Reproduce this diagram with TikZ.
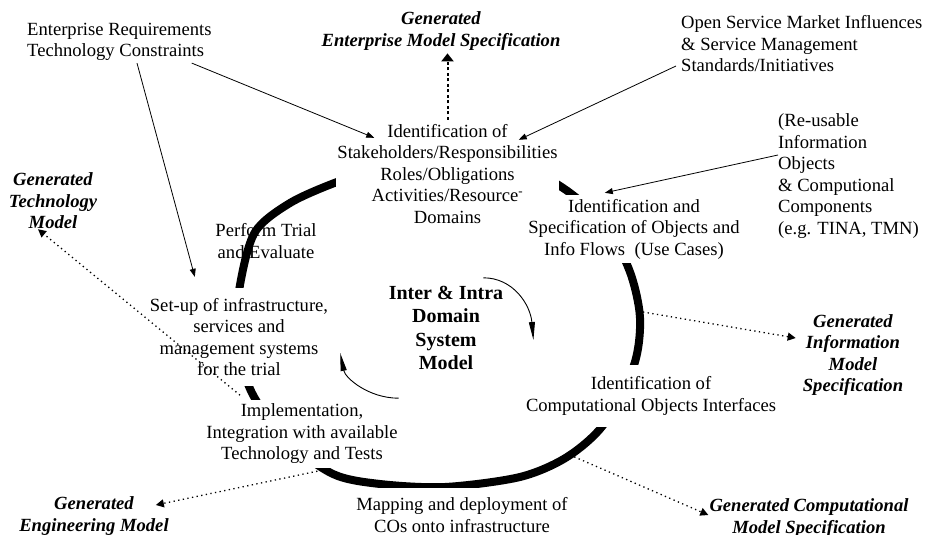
\documentclass[tikz,border=0pt]{standalone}
\usepackage{fontspec}
\setmainfont{Liberation Serif}
\usetikzlibrary{arrows.meta}

\begin{document}
\begin{tikzpicture}[x=1pt, y=-1pt,
    txt/.style={font=\fontsize{18.6}{21.5}\selectfont, align=center, inner sep=0pt},
    stage/.style={txt, fill=white, inner sep=1pt},
    model/.style={txt, font=\fontsize{18.6}{21.5}\selectfont\bfseries\itshape, inner sep=3pt},
    conn/.style={line width=0.8pt, -{Triangle[length=8pt,width=6pt]}},
    gen/.style={line width=1.3pt, dash pattern=on 1.3pt off 3.4pt, -{Triangle[length=8pt,width=8pt]}},
    turn/.style={line width=0.9pt, -{Triangle[length=18pt,width=6pt]}}]
    \useasboundingbox (0,0) rectangle (926,535);

    % label that the ring runs across
    \node[txt] (trial) at (266,241) {Perform Trial\\and Evaluate};

    % the ring
    \draw[line width=8pt] plot[smooth cycle] coordinates {(445,160) (525,170) (566,190) (606,226)
        (630,272) (640,318) (634,365) (604,424) (567,457) (520,477) (445,487) (380,484) (333,474)
        (286,440) (252,393) (236,340) (240,285) (255,232) (290,203) (337,182) (388,166)};
    \coordinate (ringE) at (643,312);
    \coordinate (ringSE) at (570,455);

    % stages lying on the ring
    \node[stage, minimum width=222pt, minimum height=108pt] (stake) at (447.5,174)
        {Identification of\\Stakeholders/Responsibilities\\Roles/Obligations\\Activities/Resource\textsuperscript{-}\\Domains};
    \node[stage, minimum width=214pt, minimum height=68pt] (spec) at (634,229)
        {Identification and\\Specification of Objects and\\Info Flows\ \ (Use Cases)};
    \node[stage, minimum width=236pt, minimum height=62pt] (iface) at (651,396)
        {Identification of\\Computational Objects Interfaces};
    \node[stage, minimum width=214pt, minimum height=54pt] (map) at (462,515)
        {Mapping and deployment of\\COs onto infrastructure};
    \node[stage, minimum width=195pt, minimum height=68pt] (impl) at (302,434)
        {Implementation,\\Integration with available\\Technology and Tests};
    \node[stage, minimum width=184pt, minimum height=98pt] (setup) at (239,337)
        {Set-up of infrastructure,\\services and\\management systems\\for the trial};

    \node[txt, font=\fontsize{20}{23.5}\selectfont\bfseries] (core) at (446,328)
        {Inter \& Intra\\Domain\\System\\Model};

    % inputs
    \node[txt, align=left, anchor=west] (reqs) at (27,42) {Enterprise Requirements\\Technology Constraints};
    \node[txt, align=left, anchor=west] (market) at (681,44)
        {Open Service Market Influences\\\& Service Management\\Standards/Initiatives};
    \node[txt, align=left, anchor=west] (reuse) at (778,176)
        {(Re-usable\\Information\\Objects\\\& Computional\\Components\\(e.g. TINA, TMN)};

    % generated models
    \node[model] (entgen) at (441,31) {Generated\\Enterprise Model Specification};
    \node[model] (techgen) at (53,201) {Generated\\Technology\\Model};
    \node[model] (infogen) at (853,355) {Generated\\Information\\Model\\Specification};
    \node[model] (enggen) at (94,516) {Generated\\Engineering Model};
    \node[model] (compgen) at (809,518) {Generated Computational\\Model Specification};

    % input arrows
    \draw[conn] ([shift={(-20,2)}]reqs.south east) -- ([shift={(38,18)}]stake.north west);
    \draw[conn] ([shift={(110,2)}]reqs.south west) -- ([shift={(48,-11)}]setup.north west);
    \draw[conn] ([shift={(-5,22)}]market.west) -- ([shift={(-40,20)}]stake.north east);
    \draw[conn] ([shift={(0,-21)}]reuse.west) -- ([shift={(78,-2)}]spec.north west);

    % outputs
    \draw[gen, line width=2pt, dash pattern=on 3pt off 2.5pt, -{Triangle[length=8pt,width=12pt]}]
        (stake.north) -- (stake.north |- entgen.south);
    \draw[gen] ([shift={(1,9)}]setup.south) -- ([shift={(-15,-3)}]techgen.south);
    \draw[gen] ([shift={(20,2)}]impl.south) -- ([shift={(-16,-11)}]enggen.east);
    \draw[gen] (ringE) -- ([shift={(-4,-17)}]infogen.west);
    \draw[gen] (ringSE) -- ([shift={(2,-3)}]compgen.west);

    % turning arrows round the core
    \draw[turn] ([shift={(-20,-8)}]core.north east) .. controls +(30,0) and +(-3,-35) .. ([shift={(30,12)}]core.east);
    \draw[turn] ([shift={(10,28)}]core.south west) .. controls +(-30,0) and +(5,25) .. ([shift={(9,16)}]setup.east);
\end{tikzpicture}
\end{document}
